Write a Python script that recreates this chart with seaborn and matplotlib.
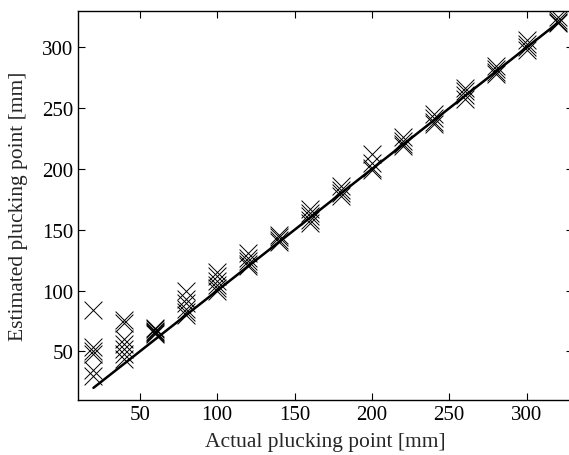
import numpy as np
import pandas as pd
import matplotlib
matplotlib.use("Agg")
import matplotlib.pyplot as plt
import seaborn as sns

# actual plucking positions (mm) and the estimates found at each of them
actual_mm = [20, 40, 60, 80, 100, 120, 140, 160, 180, 200, 220, 240, 260, 280, 300, 320]
estimated_mm = [
    [84, 54, 50, 48, 35, 30],
    [76, 73, 60, 56, 52, 48, 44],
    [69, 68, 67, 66, 65, 64],
    [100, 93, 90, 85, 82, 80],
    [115, 112, 108, 105, 102, 100],
    [131, 127, 124, 122, 120],
    [146, 144, 142, 140],
    [167, 164, 161, 158, 156],
    [186, 183, 180, 178],
    [212, 205, 201, 199],
    [226, 223, 221, 219],
    [245, 242, 239, 237],
    [267, 264, 261, 258],
    [285, 282, 280, 278],
    [306, 303, 300, 298],
    [325, 323, 321, 320],
]
ideal_line = [20, 320]

rows = []
for a, ests in zip(actual_mm, estimated_mm):
    for e in ests:
        rows.append((a, e))
df = pd.DataFrame(rows, columns=["actual", "estimated"])

sns.set_style("ticks")
plt.rcParams['font.family'] = ['Liberation Serif', 'DejaVu Serif']
plt.rcParams['mathtext.fontset'] = 'stix'

fig = plt.figure(figsize=(5.69, 4.56), dpi=100)
ax = fig.add_axes([78 / 569, 55 / 456, 495 / 569, 389 / 456])

sns.lineplot(x=ideal_line, y=ideal_line, color="black", linewidth=1.8, ax=ax)
sns.scatterplot(data=df, x="actual", y="estimated", marker="x", s=165,
                color="black", linewidth=0.7, ax=ax)

ax.set_xlim(10, 330)
ax.set_ylim(10, 330)
ax.set_xticks([50, 100, 150, 200, 250, 300])
ax.set_yticks([50, 100, 150, 200, 250, 300])
ax.tick_params(direction="in", length=5, width=0.8, labelsize=15,
               top=True, right=True, colors="black")
for sp in ax.spines.values():
    sp.set_linewidth(1.0)
    sp.set_color("black")

ax.set_xlabel("Actual plucking point [mm]", fontsize=15.5, labelpad=6)
ax.set_ylabel("Estimated plucking point [mm]", fontsize=15.5, labelpad=10)

fig.savefig("out.png", dpi=100)
